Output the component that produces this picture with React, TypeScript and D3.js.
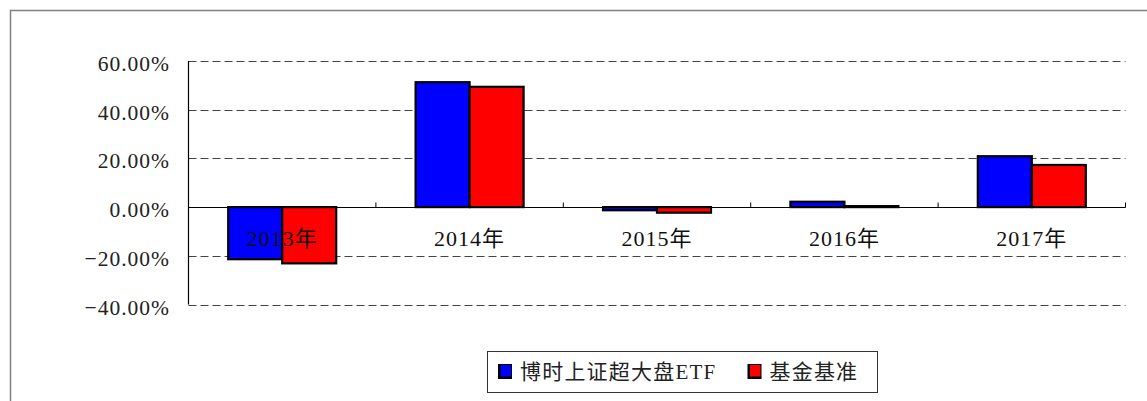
import React, { useEffect, useRef } from "react";
import * as d3 from "d3";

const categories = ["2013年", "2014年", "2015年", "2016年", "2017年"];
const seriesNames = ["博时上证超大盘ETF", "基金基准"];
const fundValues = [-21.4, 51.3, -1.3, 2.2, 20.9];
const benchValues = [-23.1, 49.4, -2.3, 0.4, 17.3];
const yTicks = [60, 40, 20, 0, -20, -40];
const colors = ["#0000ff", "#ff0000"];

const FONT = "'Liberation Serif', 'Noto Sans CJK SC', serif";

const App = () => {
  const svgRef = useRef<SVGSVGElement | null>(null);

  useEffect(() => {
    const w = 1147;
    const h = 401;
    const svg = d3.select(svgRef.current);
    svg.selectAll("*").remove();
    svg.attr("width", w).attr("height", h).style("background", "#fff");

    // outer frame (right and bottom edges fall outside the picture)
    svg
      .append("rect")
      .attr("x", 10.5)
      .attr("y", 10.5)
      .attr("width", 1200)
      .attr("height", 500)
      .attr("fill", "none")
      .attr("stroke", "#808080")
      .attr("stroke-width", 1.5);

    const left = 188.5;
    const right = 1125.5;

    const x = d3.scaleBand().domain(categories).range([left, right]);
    const y = d3.scaleLinear().domain([-40, 60]).range([304.5, 61]);
    const inner = d3.scaleBand().domain(["0", "1"]).range([0, 108]);

    // dashed gridlines
    svg
      .append("g")
      .selectAll("line")
      .data(yTicks.filter((t) => t !== 0))
      .join("line")
      .attr("x1", left)
      .attr("x2", right)
      .attr("y1", (d) => Math.round(y(d)) + 0.5)
      .attr("y2", (d) => Math.round(y(d)) + 0.5)
      .attr("stroke", "#444")
      .attr("stroke-width", 1.2)
      .attr("stroke-dasharray", "8,4");

    // y axis line
    svg
      .append("line")
      .attr("x1", left)
      .attr("x2", left)
      .attr("y1", y(60))
      .attr("y2", y(-40))
      .attr("stroke", "#000")
      .attr("stroke-width", 1.2);

    // y tick labels
    svg
      .append("g")
      .selectAll("text")
      .data(yTicks)
      .join("text")
      .attr("x", 170)
      .attr("y", (d) => y(d) + 10)
      .attr("text-anchor", "end")
      .attr("font-family", FONT)
      .attr("font-size", 21.5)
      .attr("letter-spacing", 1)
      .attr("fill", "#222")
      .text((d) => (d < 0 ? "\u2212" + Math.abs(d).toFixed(2) : d.toFixed(2)) + "%");

    // bars
    const series = [fundValues, benchValues];
    series.forEach((vals, si) => {
      svg
        .append("g")
        .selectAll("rect")
        .data(vals)
        .join("rect")
        .attr("x", (d, i) => (x(categories[i]) as number) + x.bandwidth() / 2 - 54 + (inner(String(si)) as number))
        .attr("y", (d) => y(Math.max(0, d)))
        .attr("width", inner.bandwidth())
        .attr("height", (d) => Math.abs(y(d) - y(0)))
        .attr("fill", colors[si])
        .attr("stroke", "#000")
        .attr("stroke-width", 2.2);
    });

    // zero line with category ticks
    const zy = Math.round(y(0)) + 0.5;
    svg
      .append("line")
      .attr("x1", left)
      .attr("x2", right)
      .attr("y1", zy)
      .attr("y2", zy)
      .attr("stroke", "#000")
      .attr("stroke-width", 1.2);
    svg
      .append("g")
      .selectAll("line")
      .data(categories)
      .join("line")
      .attr("x1", (d) => (x(d) as number) + x.bandwidth())
      .attr("x2", (d) => (x(d) as number) + x.bandwidth())
      .attr("y1", zy)
      .attr("y2", zy - 5)
      .attr("stroke", "#000")
      .attr("stroke-width", 1);

    // category labels
    svg
      .append("g")
      .selectAll("text")
      .data(categories)
      .join("text")
      .attr("x", (d) => (x(d) as number) + x.bandwidth() / 2)
      .attr("y", 246)
      .attr("text-anchor", "middle")
      .attr("font-family", FONT)
      .attr("font-size", 22)
      .attr("letter-spacing", 1)
      .attr("fill", "#111")
      .text((d) => d);

    // legend
    const lg = svg.append("g");
    lg.append("rect")
      .attr("x", 487.5)
      .attr("y", 351.5)
      .attr("width", 390)
      .attr("height", 41)
      .attr("fill", "#fff")
      .attr("stroke", "#333")
      .attr("stroke-width", 1);
    const legendX = [498, 747.5];
    seriesNames.forEach((name, i) => {
      lg.append("rect")
        .attr("x", legendX[i])
        .attr("y", 364)
        .attr("width", 14)
        .attr("height", 15)
        .attr("fill", "#000");
      lg.append("rect")
        .attr("x", legendX[i] + 2.5)
        .attr("y", 365)
        .attr("width", 10.5)
        .attr("height", 11.5)
        .attr("fill", colors[i]);
      lg.append("text")
        .attr("x", legendX[i] + 22)
        .attr("y", 379)
        .attr("font-family", FONT)
        .attr("font-size", 21)
        .attr("letter-spacing", 1.2)
        .attr("fill", "#222")
        .text(name);
    });
  }, []);

  return <svg ref={svgRef} style={{ position: "absolute", left: 0, top: 0, display: "block" }}></svg>;
};

export default App;
